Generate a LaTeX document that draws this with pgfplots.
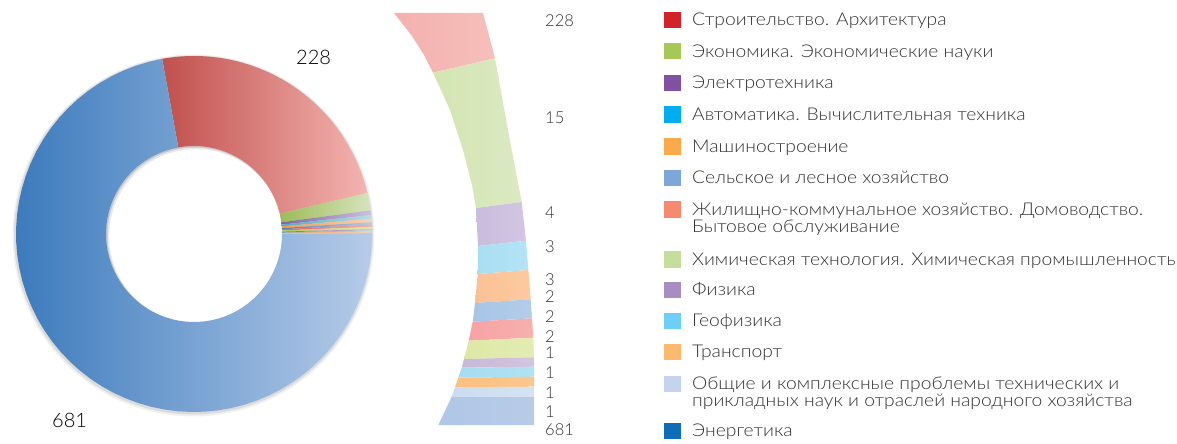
\documentclass[border=0pt]{standalone}
\usepackage{pgfplots}
\pgfplotsset{compat=1.18}
\usepackage{fontspec}
\IfFontExistsTF{Lato Light}{\setmainfont{Lato Light}[FakeStretch=1.095]\newfontfamily\numfont{Lato Light}}{\setmainfont{Lato}[FakeStretch=1.095]\newfontfamily\numfont{Lato}}
\definecolor{txt}{HTML}{333333}
% legend colours
\definecolor{L1}{HTML}{D2232A}\definecolor{L2}{HTML}{A5C856}\definecolor{L3}{HTML}{8151A1}
\definecolor{L4}{HTML}{00AEEF}\definecolor{L5}{HTML}{FBAA4B}\definecolor{L6}{HTML}{7DA7D9}
\definecolor{L7}{HTML}{F58A6F}\definecolor{L8}{HTML}{C4DF9B}\definecolor{L9}{HTML}{A88DC2}
\definecolor{L10}{HTML}{6DCFF6}\definecolor{L11}{HTML}{FDBA6F}\definecolor{L12}{HTML}{C5D4EE}
\definecolor{L13}{HTML}{0E6DB6}
% donut gradients (left / right)
\definecolor{D1a}{HTML}{C0504D}\definecolor{D1b}{HTML}{F4B4B0}
\definecolor{D2a}{HTML}{9BBB59}\definecolor{D2b}{HTML}{D7E4BD}
\definecolor{D3a}{HTML}{8064A2}\definecolor{D3b}{HTML}{CCC1DA}
\definecolor{D4a}{HTML}{4BACC6}\definecolor{D4b}{HTML}{B7DEE8}
\definecolor{D5a}{HTML}{F79646}\definecolor{D5b}{HTML}{FCD5B5}
\definecolor{D6a}{HTML}{4F81BD}\definecolor{D6b}{HTML}{B9CDE5}
\definecolor{D7a}{HTML}{E0605C}\definecolor{D7b}{HTML}{F6B0AE}
\definecolor{D8a}{HTML}{B5CC5A}\definecolor{D8b}{HTML}{E0E8B0}
\definecolor{D13a}{HTML}{3C7BBD}\definecolor{D13b}{HTML}{B6CBE8}
% zoomed arc colours
\definecolor{A1a}{HTML}{F3B1AE}\definecolor{A1b}{HTML}{F6BFBB}
\definecolor{A2a}{HTML}{D4E5B2}\definecolor{A2b}{HTML}{DBE9C2}
\definecolor{A3a}{HTML}{C9BCDC}\definecolor{A3b}{HTML}{D2C6E2}
\definecolor{A4a}{HTML}{A9DEF3}\definecolor{A4b}{HTML}{B4E3F4}
\definecolor{A5a}{HTML}{FBC196}\definecolor{A5b}{HTML}{FCCA9F}
\definecolor{A6a}{HTML}{A7C5E6}\definecolor{A6b}{HTML}{B3CDEA}
\definecolor{A7a}{HTML}{F6A3A3}\definecolor{A7b}{HTML}{F6B0AE}
\definecolor{A8a}{HTML}{DDE8A6}\definecolor{A8b}{HTML}{E3ECB2}
\definecolor{A9a}{HTML}{C9B8D8}\definecolor{A9b}{HTML}{D3C4E0}
\definecolor{A10a}{HTML}{A6DCEF}\definecolor{A10b}{HTML}{B0E2F2}
\definecolor{A11a}{HTML}{FBBF80}\definecolor{A11b}{HTML}{FCC78E}
\definecolor{A12a}{HTML}{CADCF0}\definecolor{A12b}{HTML}{D5E4F3}
\definecolor{A13a}{HTML}{B0C6E6}\definecolor{A13b}{HTML}{B8CCE9}

\newcommand\aStart{0}
\newcommand\sector[3]{%
  \pgfmathsetmacro\aEnd{\aStart-#1/944*360}%
  \edef\temp{\noexpand\addplot[draw=none,left color=#2,right color=#3,
     domain=0:3,samples=181,variable=\noexpand\t]
     ({194+drad(\noexpand\t)*cos(dang(\noexpand\t,\aStart,\aEnd))},
      {234-drad(\noexpand\t)*sin(dang(\noexpand\t,\aStart,\aEnd))});}%
  \temp
  \global\let\aStart\aEnd}
% soft shadow disc: radius, x offset, y offset, colour
\newcommand\shadowdisc[4]{%
  \addplot[draw=none,fill=#4,domain=0:360,samples=121]
     ({194+#2+#1*cos(x)},{234+#3-#1*sin(x)});}

\begin{document}
\begin{tikzpicture}
\useasboundingbox (0,0) rectangle (1177pt,444pt);
\begin{axis}[
  at={(0,0)}, anchor=south west,
  width=1177pt, height=444pt, scale only axis,
  xmin=0, xmax=1177, ymin=0, ymax=444, y dir=reverse,
  hide axis, clip=false,
  declare function={
    drad(\q)=178-90*min(max(\q-1,0),1);
    dang(\q,\a,\b)=\a+(\b-\a)*min(\q,1)+(\a-\b)*max(\q-2,0);
  },
  every node/.style={text=txt},
]
% ---------- soft shadow of the donut
\shadowdisc{181}{-0.5}{1.5}{black!6}
\shadowdisc{179.5}{-0.5}{1}{black!14}
\shadowdisc{88}{0}{0}{black!22}
\shadowdisc{87.5}{1}{1}{black!9}
\shadowdisc{87}{2.2}{2.2}{white}
% ---------- donut (values 228,15,4,3,3,2,2,2,1,1,1,1,681; total 944)
\pgfmathsetmacro\aStart{(944-681)/944*360}\xdef\aStart{\aStart}
\sector{228}{D1a}{D1b}
\sector{15}{D2a}{D2b}
\sector{4}{D3a}{D3b}
\sector{3}{D4a}{D4b}
\sector{3}{D5a}{D5b}
\sector{2}{D6a}{D6b}
\sector{2}{D7a}{D7b}
\sector{2}{D8a}{D8b}
\sector{1}{D3a}{D3b}
\sector{1}{D4a}{D4b}
\sector{1}{D5a}{D5b}
\sector{1}{D6b}{D6b}
\sector{681}{D13a}{D13b}
\node[anchor=base west,inner sep=0pt,font=\numfont\fontsize{20}{20}\selectfont] at (axis cs:296,65) {228};
\node[anchor=base west,inner sep=0pt,font=\numfont\fontsize{20}{20}\selectfont] at (axis cs:52,427) {681};

% ---------- zoomed arc
\addplot[draw=none,left color=A1a,right color=A1b] coordinates {(394,13) (483,13) (495,58.3) (433,72.7) (424,55) (412,36)};
\addplot[draw=none,left color=A2a,right color=A2b] coordinates {(433,72.7) (495,58.3) (508,130) (521.7,202) (476,208) (472,185) (463,150) (450,110)};
\addplot[draw=none,left color=A3a,right color=A3b] coordinates {(476,208) (521.7,202) (526,240.7) (478,246)};
\addplot[draw=none,left color=A4a,right color=A4b] coordinates {(478,246) (526,240.7) (528.3,270) (477.7,274)};
\addplot[draw=none,left color=A5a,right color=A5b] coordinates {(477.7,274) (528.3,270) (530.7,299.3) (475,303)};
\addplot[draw=none,left color=A6a,right color=A6b] coordinates {(475,303) (530.7,299.3) (532,318.3) (472.7,321.7)};
\addplot[draw=none,left color=A7a,right color=A7b] coordinates {(472.7,321.7) (532,318.3) (533.3,337.7) (468.7,340.7)};
\addplot[draw=none,left color=A8a,right color=A8b] coordinates {(468.7,340.7) (533.3,337.7) (534,357.3) (464,359)};
\addplot[draw=none,left color=A9a,right color=A9b] coordinates {(464,359) (534,357.3) (534,366.7) (461.7,367.7)};
\addplot[draw=none,left color=A10a,right color=A10b] coordinates {(461.7,367.7) (534,366.7) (534,376.7) (458.3,377.7)};
\addplot[draw=none,left color=A11a,right color=A11b] coordinates {(458.3,377.7) (534,376.7) (534,386.7) (455,387.3)};
\addplot[draw=none,left color=A12a,right color=A12b] coordinates {(455,387.3) (534,386.7) (534,396.7) (451.7,396.7)};
\addplot[draw=none,left color=A13a,right color=A13b] coordinates {(451.7,396.7) (534,396.7) (534,425) (438.3,425)};
\begin{scope}[every node/.style={anchor=base west,inner sep=0pt,text=txt,font=\numfont\fontsize{16.5}{16.5}\selectfont}]
\node at (axis cs:545,27) {228};
\node at (axis cs:545,123) {15};
\node at (axis cs:545,218) {4};
\node at (axis cs:545,252) {3};
\node at (axis cs:545,285) {3};
\node at (axis cs:545,302) {2};
\node at (axis cs:545,322) {2};
\node at (axis cs:545,342) {2};
\node at (axis cs:545,358) {1};
\node at (axis cs:545,378) {1};
\node at (axis cs:545,398) {1};
\node at (axis cs:545,417) {1};
\node at (axis cs:545,435) {681};
\end{scope}

% ---------- legend
\addplot[only marks,mark=square*,mark size=7.7pt,color=L1] coordinates {(672,19.5)};
\addplot[only marks,mark=square*,mark size=7.7pt,color=L2] coordinates {(672,51)};
\addplot[only marks,mark=square*,mark size=7.7pt,color=L3] coordinates {(672,82.5)};
\addplot[only marks,mark=square*,mark size=7.7pt,color=L4] coordinates {(672,114)};
\addplot[only marks,mark=square*,mark size=7.7pt,color=L5] coordinates {(672,146)};
\addplot[only marks,mark=square*,mark size=7.7pt,color=L6] coordinates {(672,177.5)};
\addplot[only marks,mark=square*,mark size=7.7pt,color=L7] coordinates {(672,209)};
\addplot[only marks,mark=square*,mark size=7.7pt,color=L8] coordinates {(672,259)};
\addplot[only marks,mark=square*,mark size=7.7pt,color=L9] coordinates {(672,289.5)};
\addplot[only marks,mark=square*,mark size=7.7pt,color=L10] coordinates {(672,320.5)};
\addplot[only marks,mark=square*,mark size=7.7pt,color=L11] coordinates {(672,351.5)};
\addplot[only marks,mark=square*,mark size=7.7pt,color=L12] coordinates {(672,383.5)};
\addplot[only marks,mark=square*,mark size=7.7pt,color=L13] coordinates {(672,430.5)};
\begin{scope}[every node/.style={anchor=base west,text=txt,inner sep=0pt,font=\fontsize{17.6}{17.6}\selectfont}]
\node at (axis cs:692,25.8) {Строительство. Архитектура};
\node at (axis cs:692,57.3) {Экономика. Экономические науки};
\node at (axis cs:692,88.8) {Электротехника};
\node at (axis cs:692,120.3) {Автоматика. Вычислительная техника};
\node at (axis cs:692,152.3) {Машиностроение};
\node at (axis cs:692,183.8) {Сельское и лесное хозяйство};
\node at (axis cs:692,215.3) {Жилищно-коммунальное хозяйство. Домоводство.};
\node at (axis cs:692,232) {Бытовое обслуживание};
\node at (axis cs:692,265.3) {Химическая технология. Химическая промышленность};
\node at (axis cs:692,295.8) {Физика};
\node at (axis cs:692,326.8) {Геофизика};
\node at (axis cs:692,357.8) {Транспорт};
\node at (axis cs:692,389.8) {Общие и комплексные проблемы технических и};
\node at (axis cs:692,406.5) {прикладных наук и отраслей народного хозяйства};
\node at (axis cs:692,436.8) {Энергетика};
\end{scope}
\end{axis}
\end{tikzpicture}
\end{document}
